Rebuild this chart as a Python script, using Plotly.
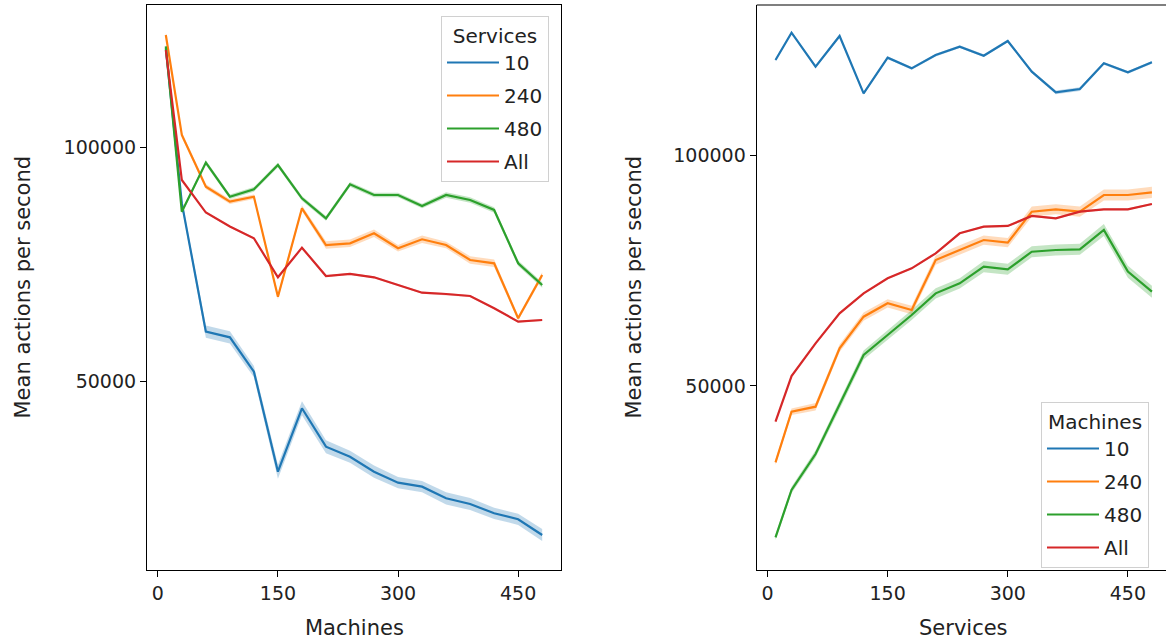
import plotly.graph_objects as go

# ---------------- data ----------------
x_vals = [10, 30, 60, 90, 120, 150, 180, 210, 240, 270, 300, 330, 360, 390, 420, 450, 480]
series_names = ["10", "240", "480", "All"]
colors = ["#1f77b4", "#ff7f0e", "#2ca02c", "#d62728"]
fills = ["rgba(31,119,180,0.28)", "rgba(255,127,14,0.28)", "rgba(44,160,44,0.28)", "rgba(214,39,40,0.28)"]

# Left panel: x = Machines, lines by Services
left_10 = [121100, 88000, 60540, 59330, 51990, 30620, 44170, 35960, 33820, 30620, 28270, 27420, 24930, 23720, 21730, 20450, 17090]
left_240 = [123940, 102570, 91520, 88320, 89380, 68010, 86910, 79060, 79420, 81560, 78360, 80280, 79060, 75860, 75150, 63400, 72650]
left_480 = [121500, 86180, 96680, 89380, 90950, 96160, 89030, 84770, 92030, 89750, 89750, 87400, 89750, 88680, 86550, 75150, 70520]
left_all = [120730, 92950, 86000, 83000, 80500, 72160, 78490, 72440, 72870, 72160, 70520, 68870, 68590, 68160, 65540, 62680, 63040]

left_10_ci = [600, 800, 1300, 1300, 1200, 1500, 1500, 1400, 1300, 1300, 1200, 1200, 1300, 1300, 1200, 1200, 1300]
left_240_ci = [500, 600, 500, 500, 500, 600, 600, 800, 800, 800, 700, 800, 700, 800, 800, 500, 600]
left_480_ci = [400, 400, 500, 500, 500, 500, 500, 500, 500, 500, 500, 500, 600, 600, 600, 600, 600]
left_all_ci = [200, 200, 200, 200, 200, 200, 200, 200, 200, 200, 200, 200, 200, 200, 200, 200, 200]

# Right panel: x = Services, lines by Machines
right_10 = [120560, 126470, 119110, 125760, 113350, 121060, 118760, 121640, 123440, 121500, 124680, 118030, 113570, 114280, 119850, 117900, 120060]
right_240 = [33480, 44440, 45520, 58160, 65000, 67900, 66450, 77270, 79440, 81600, 81020, 87730, 88250, 87730, 91340, 91340, 91920]
right_480 = [17250, 27490, 35280, 45890, 56710, 61040, 65370, 70060, 72230, 75830, 75260, 79070, 79440, 79590, 83770, 74750, 70420]
right_all = [42270, 52160, 59240, 65740, 70060, 73310, 75470, 78720, 83050, 84490, 84640, 86800, 86300, 87730, 88250, 88250, 89390]

right_10_ci = [300, 300, 300, 300, 300, 300, 300, 300, 300, 300, 300, 300, 400, 400, 300, 300, 300]
right_240_ci = [600, 700, 800, 800, 900, 900, 900, 1000, 1000, 1000, 1000, 1100, 1100, 1100, 1200, 1200, 1200]
right_480_ci = [600, 700, 800, 900, 1000, 1000, 1100, 1100, 1100, 1200, 1200, 1200, 1200, 1200, 1300, 1300, 1300]
right_all_ci = [200, 200, 200, 200, 200, 200, 200, 200, 200, 200, 200, 200, 200, 200, 200, 200, 200]

x_ticks = [0, 150, 300, 450]
y_ticks = [50000, 100000]
y_tick_labels = ["50000", "100000"]

left_series = [left_10, left_240, left_480, left_all]
left_cis = [left_10_ci, left_240_ci, left_480_ci, left_all_ci]
right_series = [right_10, right_240, right_480, right_all]
right_cis = [right_10_ci, right_240_ci, right_480_ci, right_all_ci]

# ---------------- figure ----------------
W, H = 1166, 640
FONT = "DejaVu Sans"
FS = 19

fig = go.Figure()


def add_panel(series, cis, xa, ya, legend):
    for name, vals, ci, col, fc in zip(series_names, series, cis, colors, fills):
        upper = [v + c for v, c in zip(vals, ci)]
        lower = [v - c for v, c in zip(vals, ci)]
        fig.add_trace(go.Scatter(
            x=x_vals + x_vals[::-1], y=upper + lower[::-1],
            fill="toself", fillcolor=fc, line=dict(width=0),
            mode="lines", hoverinfo="skip", showlegend=False,
            xaxis=xa, yaxis=ya,
        ))
    for name, vals, col in zip(series_names, series, colors):
        fig.add_trace(go.Scatter(
            x=x_vals, y=vals, mode="lines", name=name,
            line=dict(color=col, width=2.2),
            xaxis=xa, yaxis=ya, legend=legend, legendgroup=legend + name,
        ))


add_panel(left_series, left_cis, "x", "y", "legend")
add_panel(right_series, right_cis, "x2", "y2", "legend2")

ydom = [1 - 570 / H, 1 - 5 / H]
axis_common = dict(
    showgrid=False, zeroline=False, showline=True, linecolor="black", linewidth=1.2,
    ticks="outside", ticklen=6, tickwidth=1.2, tickcolor="black",
    tickfont=dict(family=FONT, size=FS, color="#222"),
)

legend_common = dict(
    bgcolor="rgba(255,255,255,0.8)", bordercolor="#d0d0d0", borderwidth=1,
    font=dict(family=FONT, size=20), tracegroupgap=4, itemwidth=52,
)

fig.update_layout(
    width=W, height=H,
    margin=dict(l=0, r=0, t=0, b=0),
    paper_bgcolor="white", plot_bgcolor="white",
    font=dict(family=FONT, size=FS, color="#222"),
    xaxis=dict(domain=[147 / W, 561 / W], range=[-13.5, 503.5], tickvals=x_ticks,
               mirror=True, anchor="y", **axis_common),
    yaxis=dict(domain=ydom, range=[9610, 130350], tickvals=y_ticks, ticktext=y_tick_labels,
               mirror=True, anchor="x", **axis_common),
    xaxis2=dict(domain=[756.7 / W, 1.0], range=[-13.5, 497.6], tickvals=x_ticks,
                mirror=False, anchor="y2", **axis_common),
    yaxis2=dict(domain=ydom, range=[10170, 132470], tickvals=y_ticks, ticktext=y_tick_labels,
                mirror=False, anchor="x2", **axis_common),
    legend=dict(
        x=549 / W, y=1 - 16 / H, xanchor="right", yanchor="top",
        title=dict(text="Services", side="top center", font=dict(family=FONT, size=20)),
        **legend_common,
    ),
    legend2=dict(
        x=1149 / W, y=1 - 568 / H, xanchor="right", yanchor="bottom",
        title=dict(text="Machines", side="top center", font=dict(family=FONT, size=20)),
        **legend_common,
    ),
    showlegend=True,
)

# top border of the right panel (its right edge lies beyond the picture)
fig.add_shape(type="line", xref="paper", yref="paper",
              x0=756.7 / W, x1=1.01, y0=ydom[1], y1=ydom[1],
              line=dict(color="black", width=1.2))

# axis titles
ann = dict(xref="paper", yref="paper", showarrow=False,
           font=dict(family=FONT, size=21, color="#222"))
fig.add_annotation(text="Machines", x=354 / W, y=1 - 628 / H, xanchor="center", yanchor="middle", **ann)
fig.add_annotation(text="Services", x=963 / W, y=1 - 628 / H, xanchor="center", yanchor="middle", **ann)
fig.add_annotation(text="Mean actions per second", x=22 / W, y=1 - 287.5 / H, textangle=-90,
                   xanchor="center", yanchor="middle", **ann)
fig.add_annotation(text="Mean actions per second", x=633 / W, y=1 - 287.5 / H, textangle=-90,
                   xanchor="center", yanchor="middle", **ann)

fig.write_html(
    "out.html",
    config={"displayModeBar": False},
    post_script="document.body.style.margin='0';document.body.style.overflow='hidden';",
)
